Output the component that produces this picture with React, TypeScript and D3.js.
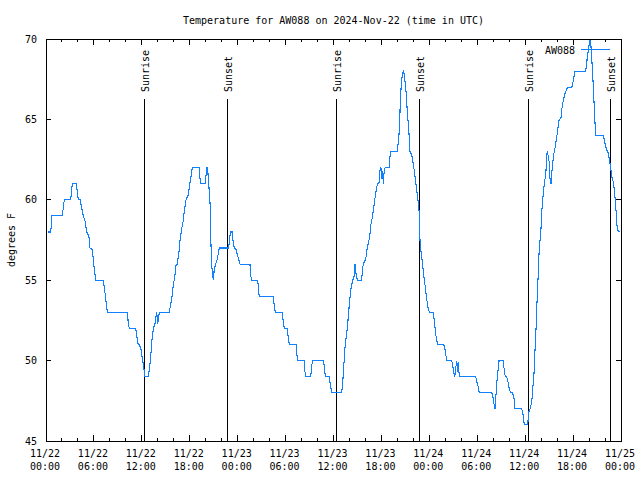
import React from "react";
import * as d3 from "d3";

// [hours since 2024-11-22 00:00 UTC, temperature in degrees F]
type Reading = [number, number];

const day1: Reading[] = [
  [0.29, 58], [0.59, 58], [0.75, 59], [2.04, 59], [2.29, 60], [3.09, 60], [3.29, 61], [3.79, 61],
  [4.04, 60], [4.26, 60], [4.47, 59.5], [4.67, 59], [4.88, 58.7], [5.01, 58.3], [5.1, 58], [5.38, 57.7],
  [5.51, 57], [5.8, 56.9], [5.92, 56.3], [6.05, 55.7], [6.22, 55], [7.18, 55], [7.39, 54.2], [7.51, 53.7],
  [7.68, 53], [10.18, 53], [10.31, 52.3], [10.43, 52], [11.23, 52], [11.36, 51.6], [11.48, 51.1], [11.65, 51],
  [11.86, 50.8], [11.98, 50.4], [12.18, 49.8], [12.31, 49.3], [12.36, 49], [12.81, 49], [13.02, 49.8], [13.15, 50.5],
  [13.27, 51.3], [13.44, 52], [13.65, 52.3], [13.86, 53], [13.99, 52.3], [14.19, 53], [15.44, 53], [15.61, 53.5],
  [15.82, 54.1], [15.94, 54.7], [16.12, 55.2], [16.28, 55.9], [16.44, 56], [16.69, 56.9], [16.78, 57.5], [16.99, 58.2],
  [17.19, 58.7], [17.32, 59.3], [17.53, 60], [17.82, 60.3], [17.94, 60.8], [18.12, 61.3], [18.24, 61.8], [18.34, 62],
  [19.16, 62], [19.35, 61], [19.97, 61], [20.1, 62], [20.22, 62], [20.32, 61.4], [20.54, 59.8], [20.6, 58],
  [20.66, 57.2], [20.72, 56.2], [20.82, 55.5], [20.95, 55], [21.07, 55.7], [21.25, 56], [21.45, 56.3], [21.58, 56.7],
  [21.7, 57], [22.83, 57], [22.95, 57.3], [23.08, 58], [23.33, 58], [23.45, 57.3], [23.58, 57], [23.79, 56.9],
  [23.95, 56.6],
];

const day2: Reading[] = [
  [24.13, 56.3], [24.29, 56], [25.54, 56], [25.63, 55.3], [25.76, 55], [26.51, 55], [26.63, 54.3], [26.71, 54],
  [28.46, 54], [28.59, 53.4], [28.71, 53], [29.59, 53], [29.71, 52.4], [29.84, 52], [30.22, 52], [30.34, 51.4],
  [30.47, 51], [31.31, 51], [31.43, 50.3], [31.52, 50], [32.31, 50], [32.43, 49.3], [32.52, 49], [33.15, 49],
  [33.27, 49.7], [33.4, 50], [34.77, 50], [34.9, 49.3], [35.02, 49], [35.48, 49], [35.6, 48.5], [35.78, 48],
  [37.03, 48], [37.15, 48.6], [37.28, 49.6], [37.44, 50.8], [37.65, 51.7], [37.78, 52.3], [37.98, 53.5], [38.19, 54.5],
  [38.41, 55], [38.57, 55.2], [38.69, 56], [38.82, 55.4], [38.98, 55], [39.53, 55], [39.61, 55.6], [39.73, 56],
  [40.03, 56.3], [40.23, 57], [40.53, 57.7], [40.66, 58.4], [40.86, 58.9], [40.98, 59.3], [41.11, 59.8], [41.28, 60.4],
  [41.41, 60.8], [41.54, 61], [41.74, 61.1], [41.82, 61.8], [41.95, 62], [42.07, 61.3], [42.16, 61.8], [42.24, 61],
  [42.36, 61.9], [42.49, 62], [42.99, 62], [43.08, 62.7], [43.2, 63], [43.99, 63], [44.04, 63.3], [44.17, 63.8],
  [44.29, 64.9], [44.37, 66.2], [44.49, 67.2], [44.62, 67.8], [44.74, 68], [44.87, 67.8], [44.99, 67.2], [45.12, 66.5],
  [45.24, 65.5], [45.42, 64.4], [45.58, 63], [45.79, 62.8], [45.96, 62.3], [46.12, 61.8], [46.24, 61.3], [46.37, 60.8],
  [46.49, 60.3], [46.62, 59.8], [46.74, 59.2], [46.83, 57.5], [46.96, 56.8], [47.08, 56.3], [47.21, 55.7], [47.33, 55.2],
  [47.46, 54.7], [47.58, 54.2], [47.71, 53.7], [47.83, 53.3],
];

const day3: Reading[] = [
  [48.0, 53], [48.5, 53], [48.62, 52.5], [48.75, 51.9], [48.87, 51.4], [49.05, 51], [49.8, 51], [49.93, 50.8],
  [50.05, 50.4], [50.18, 50], [50.8, 50], [50.93, 49.7], [51.05, 49.3], [51.18, 49], [51.3, 49.5], [51.43, 50],
  [51.55, 49.3], [51.63, 49.9], [51.75, 49], [53.81, 49], [53.93, 48.7], [54.1, 48.4], [54.26, 48], [55.81, 48],
  [55.94, 47.8], [56.1, 47.3], [56.22, 47], [56.31, 47.6], [56.44, 48.6], [56.56, 49.2], [56.73, 50], [57.23, 50],
  [57.39, 49.4], [57.51, 49], [57.69, 49], [57.89, 48.6], [58.01, 48.2], [58.23, 48], [58.39, 48], [58.57, 47.8],
  [58.73, 47], [59.57, 47], [59.69, 46.8], [59.82, 46.3], [59.89, 46], [60.32, 46], [60.44, 46.8], [60.61, 47],
  [60.82, 47.4], [60.94, 48.2], [61.07, 48.9], [61.15, 49.6], [61.27, 51.1], [61.4, 52.4], [61.52, 54.2], [61.65, 55.5],
  [61.77, 57.1], [61.95, 57.9], [62.07, 59.2], [62.27, 60.4], [62.45, 61.2], [62.57, 61.5], [62.7, 62.7], [62.77, 63],
  [62.9, 62.7], [63.02, 62.3], [63.11, 61.3], [63.24, 61], [63.32, 61.6], [63.45, 62.3], [63.61, 62.9], [63.77, 63.3],
  [63.95, 63.9], [64.07, 64.3], [64.2, 64.9], [64.49, 65.1], [64.61, 65.7], [64.78, 66.2], [64.99, 66.6], [65.2, 66.9],
  [65.33, 67], [65.83, 67], [65.95, 67.2], [66.12, 67.7], [66.24, 68], [67.58, 68], [67.71, 68.5], [67.78, 68.9],
  [67.91, 69.3], [68.03, 69.7], [68.12, 70], [68.21, 69.7], [68.28, 69.3], [68.37, 68.5], [68.53, 67.1], [68.71, 65.1],
  [68.83, 64], [69.79, 64], [69.91, 63.7], [70.04, 63.4], [70.21, 63.1], [70.41, 62.9], [70.59, 62.4], [70.75, 61.8],
  [70.87, 61.4], [71.04, 61.1], [71.21, 60.4], [71.34, 59.6], [71.46, 58.7], [71.54, 58.1], [71.88, 58],
];

const sunriseHours = [12.31, 36.35, 60.39];
const sunsetHours = [22.7, 46.74, 70.66];
const yTicks = [45, 50, 55, 60, 65, 70];

const W = 640;
const H = 480;
const FONT = "'DejaVu Sans Mono', 'Liberation Mono', monospace";
const LINE_COLOR = "#1080ff";

const t0 = new Date(Date.UTC(2024, 10, 22));
const t1 = new Date(Date.UTC(2024, 10, 25));
const at = (h: number) => new Date(t0.getTime() + h * 3600e3);

export default function App() {
  const left = 46, right = 621, top = 39, bottom = 441;

  const x = d3.scaleUtc().domain([t0, t1]).range([left, right]);
  const y = d3.scaleLinear().domain([45, 70]).range([bottom, top]);

  const data = [...day1, ...day2, ...day3].map(([h, v]) => ({ t: at(h), v }));
  const line = d3.line<{ t: Date; v: number }>().x(d => x(d.t)).y(d => y(d.v));

  const majorX = x.ticks(d3.utcHour.every(6)!);
  const minorX = x.ticks(d3.utcHour.every(2)!).filter(d => d.getUTCHours() % 6 !== 0);
  const fmtDay = d3.utcFormat("%m/%d");
  const fmtTime = d3.utcFormat("%H:%M");

  const events = [
    ...sunriseHours.map(h => ({ h, label: "Sunrise" })),
    ...sunsetHours.map(h => ({ h, label: "Sunset" })),
  ];

  return (
    <svg width={W} height={H} style={{ position: "absolute", left: 0, top: 0, background: "#fff" }}
      fontFamily={FONT} fontSize={10}>
      <rect x={0} y={0} width={W} height={H} fill="#fff" />

      <text x={(left + right) / 2} y={24} textAnchor="middle">
        Temperature for AW088 on 2024-Nov-22 (time in UTC)
      </text>

      {/* tick marks, mirrored on all four sides */}
      <g shapeRendering="crispEdges" stroke="#000">
        {yTicks.map(v => (
          <g key={v}>
            <line x1={left} x2={left + 5} y1={y(v)} y2={y(v)} />
            <line x1={right - 5} x2={right} y1={y(v)} y2={y(v)} />
          </g>
        ))}
        {majorX.map(d => (
          <g key={+d}>
            <line x1={x(d)} x2={x(d)} y1={bottom} y2={bottom - 6} />
            <line x1={x(d)} x2={x(d)} y1={top} y2={top + 6} />
          </g>
        ))}
        {minorX.map(d => (
          <g key={+d}>
            <line x1={x(d)} x2={x(d)} y1={bottom} y2={bottom - 3} />
            <line x1={x(d)} x2={x(d)} y1={top} y2={top + 3} />
          </g>
        ))}
      </g>
      {yTicks.map(v => (
        <text key={v} x={37} y={y(v) + 3.5} textAnchor="end">{v}</text>
      ))}
      {majorX.map(d => (
        <g key={+d}>
          <text x={x(d) - 1} y={457} textAnchor="middle">{fmtDay(d)}</text>
          <text x={x(d) - 1} y={470} textAnchor="middle">{fmtTime(d)}</text>
        </g>
      ))}

      <text transform={`translate(15,${(top + bottom) / 2}) rotate(-90)`} textAnchor="middle">
        degrees F
      </text>

      {/* sunrise / sunset markers */}
      {events.map(e => (
        <g key={e.h}>
          <line x1={x(at(e.h))} x2={x(at(e.h))} y1={99} y2={bottom} stroke="#000"
            shapeRendering="crispEdges" />
          <text transform={`translate(${x(at(e.h)) + 5},92) rotate(-90)`}>{e.label}</text>
        </g>
      ))}

      <path d={line(data) ?? ""} fill="none" stroke={LINE_COLOR} strokeWidth={1.1}
        shapeRendering="crispEdges" />

      {/* legend */}
      <text x={575} y={53.5} textAnchor="end">AW088</text>
      <line x1={581} x2={610} y1={49.5} y2={49.5} stroke={LINE_COLOR} shapeRendering="crispEdges" />

      <rect x={left} y={top} width={right - left} height={bottom - top} fill="none" stroke="#000"
        shapeRendering="crispEdges" />
    </svg>
  );
}
